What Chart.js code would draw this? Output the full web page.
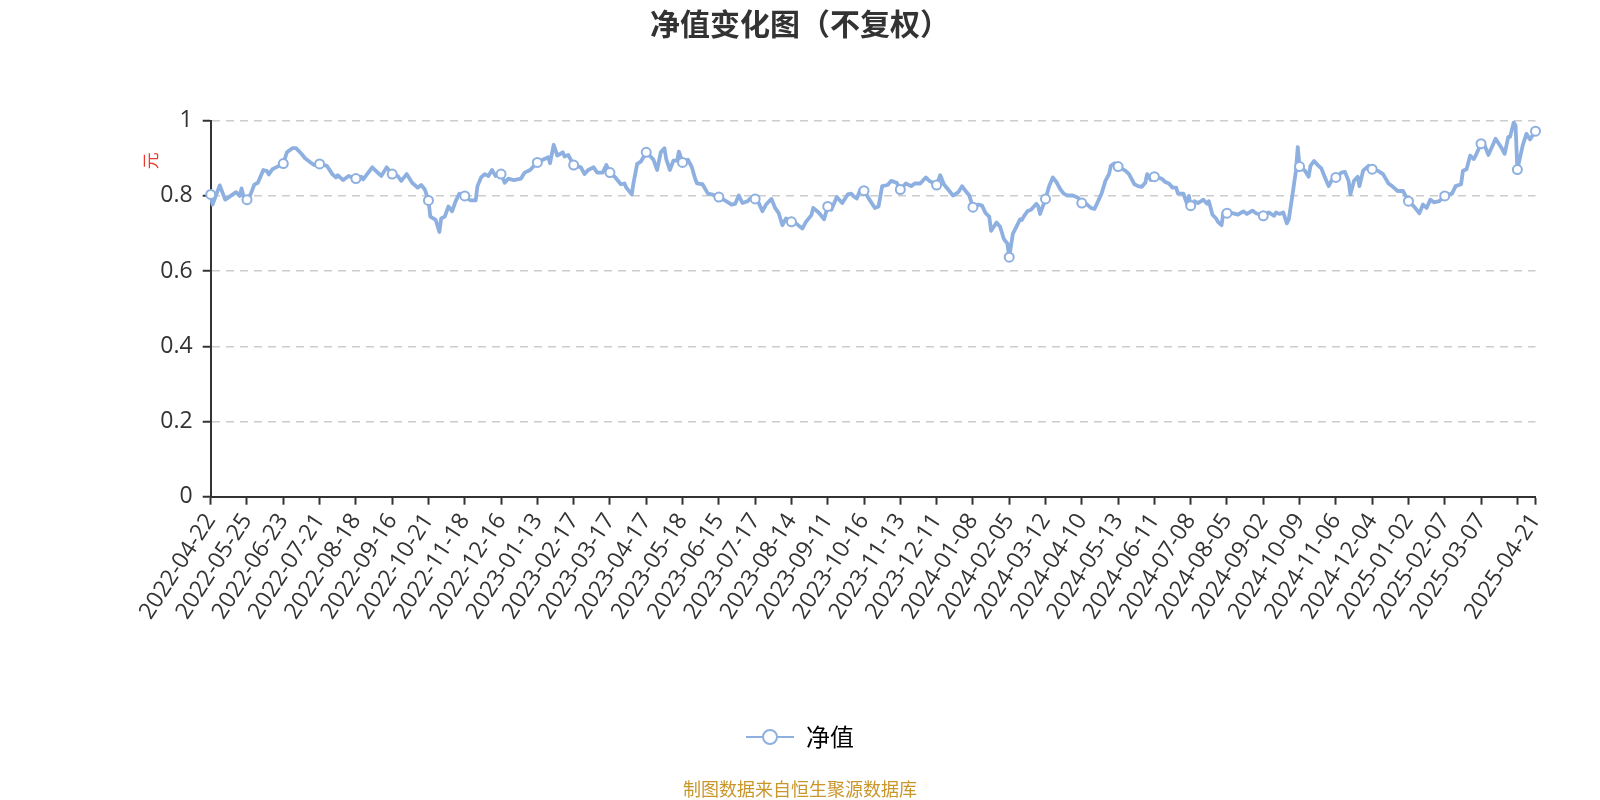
<!DOCTYPE html>
<html><head><meta charset="utf-8">
<script src="https://cdn.jsdelivr.net/npm/chart.js@4.4.1/dist/chart.umd.min.js"></script>
<style>html,body{margin:0;padding:0;background:#fff;}#wrap{width:1600px;height:800px;}</style>
</head><body><div id="wrap"><canvas id="c" width="1600" height="800"></canvas></div>
<script>
const chartTitle = '净值变化图（不复权）';
const seriesName = '净值';
const sourceText = '制图数据来自恒生聚源数据库';
const yUnit = '元';

// trading-day index of each sampled point (0 = 2022-04-22, 730 = 2025-04-21)
const dayIndex = [0,1,5,8,11,14,16,17,18,20,22,24,26,29,31,32,34,36,40,42,45,47,50,52,55,57,60,64,67,69,70,73,76,80,83,84,89,92,94,97,100,103,105,108,111,114,116,118,120,121,124,126,127,129,131,133,135,137,140,143,146,147,149,151,153,155,157,160,162,164,167,171,173,176,180,183,186,187,189,191,194,195,197,200,204,206,208,211,213,216,218,220,223,226,228,229,232,233,235,237,240,242,244,246,248,250,251,253,255,257,258,260,263,265,267,268,271,274,276,280,284,287,289,291,293,296,297,300,302,304,306,309,311,313,315,317,319,320,323,326,328,331,332,335,338,340,342,345,348,351,353,354,356,358,360,363,366,368,370,373,375,378,380,383,386,388,391,394,396,400,402,404,407,409,412,414,416,418,420,423,425,427,429,430,433,435,437,439,440,442,444,446,447,448,450,452,455,456,457,460,462,464,466,468,470,472,475,478,480,482,485,487,489,491,493,495,496,498,500,504,506,509,511,513,515,516,518,520,524,526,528,530,532,533,536,538,539,540,542,544,547,549,550,552,554,555,557,558,560,563,566,569,571,574,576,580,583,586,587,589,591,593,594,596,598,599,600,603,605,606,608,610,612,614,616,618,620,623,625,627,628,630,632,633,635,638,640,643,646,649,651,654,657,660,663,666,668,670,672,674,677,680,684,686,689,690,692,694,696,697,700,702,704,706,708,711,713,715,716,718,719,720,723,725,727,728,730];
const netValue = [0.804,0.777,0.828,0.790,0.800,0.810,0.800,0.820,0.800,0.790,0.804,0.830,0.835,0.869,0.866,0.857,0.871,0.876,0.886,0.916,0.927,0.927,0.912,0.900,0.889,0.882,0.885,0.880,0.858,0.849,0.855,0.842,0.853,0.846,0.851,0.844,0.876,0.862,0.853,0.876,0.858,0.853,0.840,0.858,0.835,0.822,0.829,0.817,0.788,0.745,0.736,0.704,0.740,0.745,0.772,0.759,0.786,0.806,0.800,0.788,0.788,0.826,0.849,0.858,0.853,0.869,0.853,0.858,0.835,0.846,0.842,0.846,0.862,0.869,0.889,0.896,0.903,0.887,0.936,0.907,0.916,0.905,0.909,0.882,0.876,0.858,0.869,0.876,0.862,0.862,0.882,0.862,0.849,0.831,0.833,0.822,0.804,0.835,0.885,0.891,0.916,0.907,0.896,0.869,0.916,0.927,0.898,0.869,0.894,0.894,0.918,0.889,0.896,0.878,0.845,0.833,0.831,0.806,0.804,0.797,0.786,0.777,0.779,0.801,0.781,0.786,0.792,0.792,0.781,0.759,0.777,0.792,0.768,0.754,0.722,0.740,0.736,0.731,0.725,0.713,0.731,0.749,0.768,0.756,0.738,0.772,0.763,0.797,0.781,0.804,0.806,0.800,0.793,0.817,0.814,0.790,0.768,0.772,0.826,0.829,0.840,0.835,0.817,0.833,0.826,0.833,0.833,0.849,0.840,0.829,0.855,0.831,0.813,0.801,0.810,0.826,0.813,0.801,0.770,0.777,0.774,0.754,0.745,0.707,0.729,0.718,0.686,0.673,0.637,0.699,0.718,0.738,0.736,0.745,0.759,0.763,0.779,0.772,0.752,0.792,0.826,0.849,0.837,0.819,0.806,0.801,0.801,0.795,0.781,0.781,0.768,0.765,0.786,0.808,0.840,0.858,0.880,0.887,0.878,0.867,0.858,0.831,0.826,0.824,0.835,0.858,0.842,0.851,0.846,0.837,0.833,0.822,0.822,0.806,0.806,0.778,0.800,0.774,0.786,0.781,0.790,0.779,0.786,0.750,0.740,0.731,0.722,0.756,0.754,0.754,0.750,0.759,0.752,0.761,0.754,0.747,0.756,0.747,0.756,0.752,0.756,0.727,0.736,0.800,0.867,0.930,0.878,0.867,0.851,0.880,0.893,0.882,0.873,0.849,0.826,0.844,0.849,0.862,0.864,0.840,0.804,0.840,0.851,0.826,0.867,0.880,0.871,0.867,0.858,0.833,0.826,0.813,0.813,0.786,0.772,0.754,0.777,0.768,0.790,0.783,0.786,0.800,0.806,0.826,0.831,0.867,0.871,0.907,0.898,0.907,0.939,0.934,0.909,0.930,0.952,0.930,0.912,0.957,0.957,0.995,0.988,0.870,0.935,0.965,0.950,0.958,0.972];

// x-axis ticks (trading-day index) and their date labels
const tickDays = [0,20,40,60,80,100,120,140,160,180,200,220,240,260,280,300,320,340,360,380,400,420,440,460,480,500,520,540,560,580,600,620,640,660,680,700,720,730];
const tickLabels = ['2022-04-22','2022-05-25','2022-06-23','2022-07-21','2022-08-18','2022-09-16','2022-10-21','2022-11-18','2022-12-16','2023-01-13','2023-02-17','2023-03-17','2023-04-17','2023-05-18','2023-06-15','2023-07-17','2023-08-14','2023-09-11','2023-10-16','2023-11-13','2023-12-11','2024-01-08','2024-02-05','2024-03-12','2024-04-10','2024-05-13','2024-06-11','2024-07-08','2024-08-05','2024-09-02','2024-10-09','2024-11-06','2024-12-04','2025-01-02','2025-02-07','2025-03-07','2025-04-07','2025-04-21'];
const hiddenTickDays = [720];
const yTicks = [0,0.2,0.4,0.6,0.8,1];

const LINE = '#8eb0e0';
const TXT = '#333333';
const FONT = '"Open Sans","Noto Sans CJK SC",sans-serif';
const CJK = '"Noto Sans CJK SC","Open Sans",sans-serif';

const lastDay = dayIndex[dayIndex.length - 1];
const points = dayIndex.map((d, i) => ({x: d, y: netValue[i]}));

function legendIcon() {
  const c = document.createElement('canvas');
  c.width = 48; c.height = 20;
  const g = c.getContext('2d');
  g.strokeStyle = LINE; g.lineWidth = 2;
  g.beginPath(); g.moveTo(0, 10); g.lineTo(48, 10); g.stroke();
  g.fillStyle = '#fff';
  g.beginPath(); g.arc(24, 10, 7, 0, Math.PI * 2); g.fill(); g.stroke();
  return c;
}
const icon = legendIcon();

const unitPlugin = {
  id: 'unitLabel',
  afterDraw(chart) {
    const ctx = chart.ctx;
    ctx.save();
    ctx.translate(chart.chartArea.left - 60, chart.chartArea.top + 40);
    ctx.rotate(-Math.PI / 2);
    ctx.font = '17px ' + CJK;
    ctx.fillStyle = '#e83a30';
    ctx.textAlign = 'center';
    ctx.textBaseline = 'middle';
    ctx.fillText(yUnit, 0, 0);
    ctx.restore();
  }
};

new Chart(document.getElementById('c'), {
  type: 'line',
  data: {
    datasets: [{
      label: seriesName,
      data: points,
      borderColor: LINE,
      borderWidth: 3.8,
      borderJoinStyle: 'round',
      borderCapStyle: 'round',
      tension: 0,
      clip: false,
      pointRadius: (ctx) => {
        const x = ctx.raw ? ctx.raw.x : -1;
        return (x % 20 === 0 || x === lastDay) ? 4.5 : 0;
      },
      pointHoverRadius: 4.5,
      pointBackgroundColor: '#ffffff',
      pointBorderColor: LINE,
      pointBorderWidth: 2
    }]
  },
  options: {
    responsive: false,
    animation: false,
    layout: {padding: 0},
    plugins: {
      title: {
        display: true, text: chartTitle, color: TXT,
        font: {family: CJK, size: 30, weight: 'bold'},
        padding: {top: 5.3, bottom: 79.4}
      },
      legend: {
        display: true, position: 'bottom',
        labels: {
          usePointStyle: true, pointStyleWidth: 48, padding: 10,
          color: TXT, font: {family: CJK, size: 24},
          generateLabels: (chart) => [{
            text: seriesName, pointStyle: icon, fillStyle: '#fff',
            strokeStyle: LINE, lineWidth: 2, datasetIndex: 0, hidden: false
          }]
        }
      },
      subtitle: {
        display: true, position: 'bottom', text: sourceText, color: '#c9962a',
        font: {family: CJK, size: 18}, padding: {top: 19.4, bottom: 0}
      },
      tooltip: {enabled: false}
    },
    scales: {
      x: {
        type: 'linear', min: 0, max: lastDay,
        afterBuildTicks: (scale) => { scale.ticks = tickDays.map(v => ({value: v})); },
        afterFit: (scale) => { scale.height = 218.3; },
        ticks: {
          autoSkip: false, minRotation: 57, maxRotation: 57, padding: 4,
          color: TXT, font: {family: FONT, size: 23},
          callback: (v) => hiddenTickDays.includes(v) ? '' : tickLabels[tickDays.indexOf(v)]
        },
        grid: {display: true, drawOnChartArea: false, drawTicks: true, tickLength: 8, tickColor: '#333', tickWidth: 2},
        border: {display: true, color: '#333', width: 2}
      },
      y: {
        min: 0, max: 1,
        afterBuildTicks: (scale) => { scale.ticks = yTicks.map(v => ({value: v})); },
        afterFit: (scale) => { scale.width = 210.7; },
        ticks: {
          padding: 10, color: TXT, font: {family: FONT, size: 23},
          callback: (v) => String(Math.round(v * 10) / 10)
        },
        grid: {color: '#cccccc', lineWidth: 1.5, drawTicks: true, tickLength: 8, tickColor: '#333', tickWidth: 2},
        border: {display: true, color: '#333', width: 2, dash: [8, 6]}
      },
      yRightSpace: {
        position: 'right', min: 0, max: 1, display: true,
        afterFit: (scale) => { scale.width = 64.5; },
        ticks: {display: false},
        grid: {display: false},
        border: {display: false}
      }
    }
  },
  plugins: [unitPlugin]
});
</script></body></html>
